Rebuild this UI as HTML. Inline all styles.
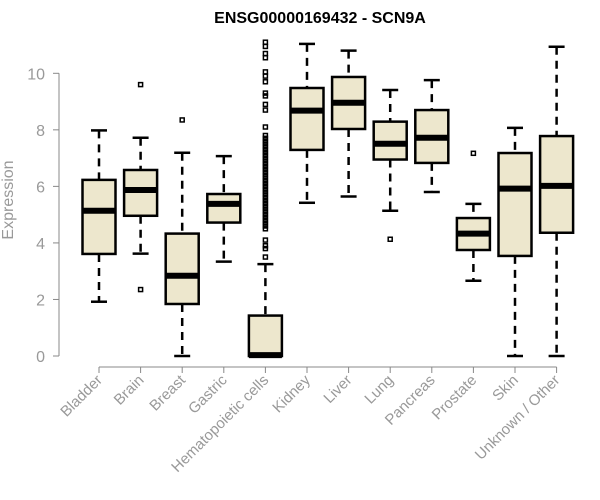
<!DOCTYPE html>
<html><head><meta charset="utf-8"><style>
body{margin:0;background:#fff;}
svg{display:block;font-family:"Liberation Sans",Arial,sans-serif;}
</style></head><body>
<svg id="chart" width="600" height="500" viewBox="0 0 600 500">
<text x="320" y="23" text-anchor="middle" font-size="16" font-weight="bold" fill="#000">ENSG00000169432 - SCN9A</text>
<text transform="translate(13,200) rotate(-90)" text-anchor="middle" font-size="16" fill="#999">Expression</text>
<g id="axes"></g>
<g id="boxes"></g>
</svg>
<script>
const categories=["Bladder","Brain","Breast","Gastric","Hematopoietic cells","Kidney","Liver","Lung","Pancreas","Prostate","Skin","Unknown / Other"];
const whiskerLow=[1.92,3.62,0,3.34,0,5.42,5.64,5.14,5.80,2.66,0,0];
const q1=[3.61,4.96,1.84,4.72,0,7.29,8.03,6.95,6.83,3.75,3.54,4.36];
const medians=[5.14,5.87,2.84,5.38,0.03,8.68,8.96,7.51,7.72,4.33,5.92,6.02];
const q3=[6.23,6.58,4.33,5.73,1.43,9.48,9.87,8.29,8.70,4.88,7.18,7.78];
const whiskerHigh=[7.98,7.72,7.19,7.07,3.25,11.04,10.8,9.41,9.76,5.38,8.07,10.94];
const outliers=[[],[9.6,2.35],[8.35],[],[11.1,10.95,10.7,10.55,10.05,9.9,9.7,9.3,9.2,8.9,8.7,8.1,7.8,7.7,7.6,7.5,7.4,7.3,7.2,7.1,7.0,6.9,6.8,6.7,6.6,6.5,6.4,6.3,6.2,6.1,6.0,5.9,5.8,5.7,5.6,5.5,5.4,5.3,5.2,5.1,5.0,4.9,4.8,4.7,4.6,4.5,4.1,3.9,3.8,3.5],[],[],[4.13],[],[7.17],[],[]];
const yTicks=[0,2,4,6,8,10];
const NS="http://www.w3.org/2000/svg";
const y=v=>356-v*28.27;
const x=i=>99+i*41.6;
function mk(tag,attrs,parent){const e=document.createElementNS(NS,tag);for(const k in attrs)e.setAttribute(k,attrs[k]);parent.appendChild(e);return e;}
const axes=document.getElementById('axes'),boxes=document.getElementById('boxes');
let ya=mk('line',{x1:59,x2:59,y1:y(10),y2:y(0),stroke:'#888'},axes);


yTicks.forEach(t=>{
 let l=mk('line',{x1:53,x2:59,y1:y(t),y2:y(t),stroke:'#888'},axes);
 
 
 let tx=mk('text',{x:45,y:y(t)+6,'text-anchor':'end','font-size':16,fill:'#999'},axes);
 tx.textContent=t;
 
 
});
let xa=mk('line',{x1:x(0),x2:x(categories.length-1),y1:367,y2:367,stroke:'#888'},axes);


categories.forEach((c,i)=>{
 const cx=x(i),hw=16.5;
 let tk=mk('line',{x1:cx,x2:cx,y1:367,y2:373,stroke:'#888'},axes);
 
 
 let lb=mk('text',{transform:`translate(${cx+4},${381}) rotate(-45)`,'text-anchor':'end','font-size':15,fill:'#999'},axes);
 lb.textContent=c;
 
 
 const g=mk('g',{},boxes);
 
 
 mk('line',{x1:cx,x2:cx,y1:y(whiskerHigh[i]),y2:y(q3[i]),stroke:'#000','stroke-width':2.5,'stroke-dasharray':'8,6'},g);
 mk('line',{x1:cx,x2:cx,y1:y(q1[i]),y2:y(whiskerLow[i]),stroke:'#000','stroke-width':2.5,'stroke-dasharray':'8,6'},g);
 mk('line',{x1:cx-8,x2:cx+8,y1:y(whiskerHigh[i]),y2:y(whiskerHigh[i]),stroke:'#000','stroke-width':2.5},g);
 mk('line',{x1:cx-8,x2:cx+8,y1:y(whiskerLow[i]),y2:y(whiskerLow[i]),stroke:'#000','stroke-width':2.5},g);
 mk('rect',{x:cx-hw,y:y(q3[i]),width:hw*2,height:Math.max(y(q1[i])-y(q3[i]),0.1),fill:'#ede7cd',stroke:'#000','stroke-width':2.5},g);
 mk('line',{x1:cx-hw,x2:cx+hw,y1:y(medians[i]),y2:y(medians[i]),stroke:'#000','stroke-width':6},g);
 outliers[i].forEach(v=>{
  let p=mk('rect',{x:cx-2,y:y(v)-2,width:4,height:4,fill:'none',stroke:'#000','stroke-width':1.5},g);
  
  
 });
});
</script>
</body></html>
